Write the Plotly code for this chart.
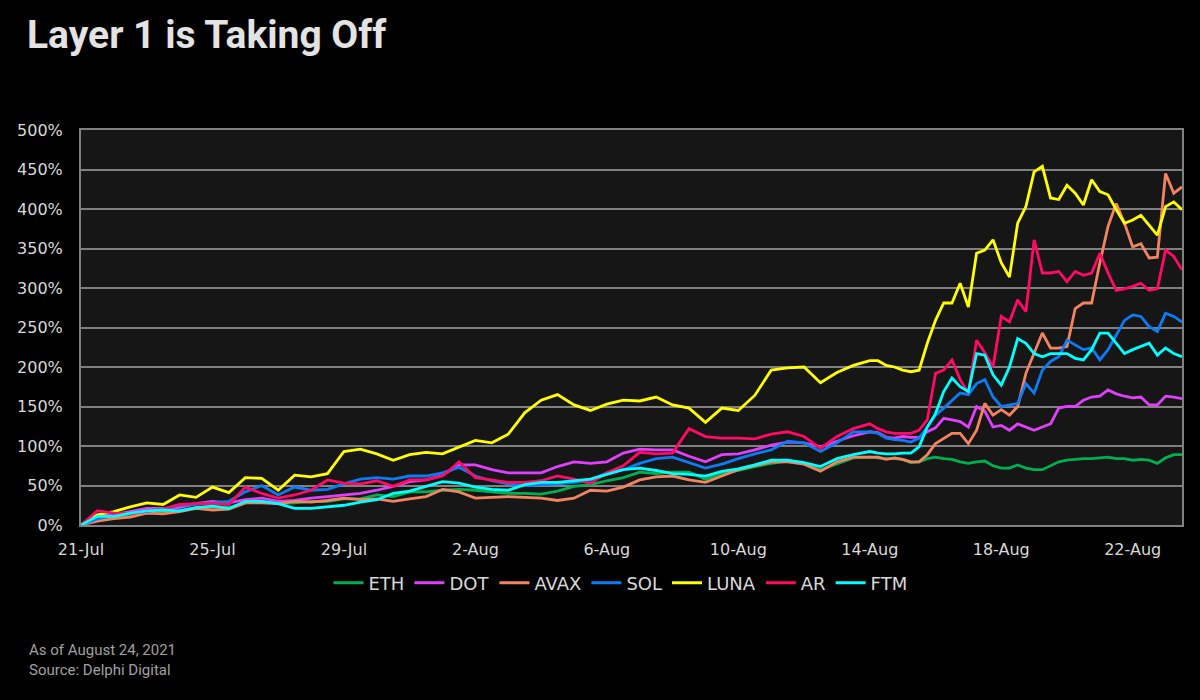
import plotly.graph_objects as go
from datetime import datetime, timedelta

# ---------------- data ----------------
start = datetime(2021, 7, 21)
# sample times: every 12h until 14-Aug, then every 6h until the end of data
day_offsets = [i * 0.5 for i in range(49)] + [24 + k * 0.25 for k in range(1, 39)]
dates = [start + timedelta(days=d) for d in day_offsets]

series_names = ["ETH", "DOT", "AVAX", "SOL", "LUNA", "AR", "FTM"]
series_colors = ["#00B050", "#E040FB", "#F4845F", "#0B7CF5", "#FFFF00", "#FF0A64", "#00FFFF"]

eth = [0, 7, 10, 12, 15, 16, 18, 22, 23, 22, 28, 30, 27, 28, 30, 30, 33, 33, 38, 36,
       42, 42, 44, 45, 44, 42, 40, 40, 39, 43, 49, 51, 56, 60, 67, 65, 67, 67, 58, 65,
       69, 74, 78, 81, 78, 70, 78, 85, 86,
       85, 84, 84, 83, 79, 80, 84, 86, 84, 83, 80, 78, 80, 81, 75, 72, 72, 76, 72, 70,
       70, 75, 80, 82, 83, 84, 84, 85, 86, 84, 84, 82, 83, 82, 78, 85, 89, 89]

dot = [0, 10, 13, 17, 21, 21, 22, 27, 30, 28, 32, 34, 30, 31, 34, 36, 38, 40, 44, 49,
       55, 57, 63, 76, 76, 70, 66, 66, 66, 74, 80, 78, 80, 91, 96, 95, 95, 87, 80, 89,
       90, 95, 101, 105, 104, 99, 106, 113, 118,
       117, 111, 110, 112, 111, 111, 118, 123, 135, 133, 131, 124, 150, 144, 124, 126, 120, 128, 124, 120,
       124, 128, 148, 150, 150, 158, 162, 163, 171, 166, 163, 161, 162, 152, 152, 163, 162, 160]

avax = [0, 5, 8, 10, 15, 14, 17, 21, 19, 20, 28, 28, 27, 30, 29, 31, 34, 32, 33, 30,
        33, 36, 45, 42, 34, 35, 36, 35, 34, 31, 34, 44, 43, 48, 57, 61, 62, 57, 54, 62,
        70, 75, 80, 80, 77, 68, 80, 86, 86,
        86, 83, 85, 83, 80, 80, 89, 103, 110, 116, 116, 103, 120, 154, 139, 146, 139, 150, 192, 217,
        243, 224, 224, 226, 274, 281, 281, 332, 378, 407, 382, 352, 356, 338, 339, 445, 420, 428]

sol = [0, 8, 12, 15, 17, 20, 25, 26, 28, 30, 42, 50, 38, 48, 44, 45, 52, 58, 60, 58,
       62, 62, 66, 73, 62, 56, 52, 50, 51, 52, 54, 57, 66, 70, 78, 84, 86, 79, 72, 77,
       84, 90, 95, 106, 104, 93, 104, 118, 118,
       116, 110, 108, 107, 105, 110, 124, 139, 148, 158, 167, 165, 179, 184, 162, 150, 152, 154, 179, 167,
       196, 207, 213, 234, 228, 222, 224, 209, 222, 241, 259, 266, 264, 251, 245, 268, 264, 257]

luna = [0, 13, 17, 23, 28, 26, 38, 35, 48, 41, 60, 59, 44, 63, 61, 65, 93, 96, 90, 82,
        89, 92, 90, 98, 107, 104, 115, 142, 158, 165, 152, 145, 153, 158, 157, 162, 152, 148, 130, 148,
        145, 164, 196, 199, 200, 180, 193, 202, 208,
        208, 202, 200, 196, 194, 196, 230, 259, 281, 281, 306, 276, 344, 348, 361, 332, 314, 382, 403, 447,
        454, 414, 412, 430, 420, 405, 437, 422, 418, 399, 382, 386, 392, 380, 367, 403, 409, 399]

ar = [0, 18, 15, 14, 18, 20, 26, 27, 27, 26, 48, 40, 34, 38, 44, 57, 53, 52, 56, 49,
      57, 57, 62, 80, 60, 57, 54, 54, 56, 62, 58, 53, 66, 75, 92, 90, 91, 122, 112, 110,
      110, 109, 115, 118, 112, 97, 112, 122, 128,
      122, 118, 116, 116, 116, 120, 133, 192, 196, 209, 184, 167, 234, 218, 200, 264, 257, 285, 270, 361,
      319, 319, 321, 308, 321, 316, 319, 344, 319, 297, 299, 302, 306, 297, 299, 348, 340, 323]

ftm = [0, 11, 11, 15, 18, 19, 18, 22, 24, 21, 30, 30, 27, 21, 21, 23, 25, 29, 32, 40,
       43, 49, 55, 53, 48, 45, 44, 51, 54, 54, 56, 58, 64, 70, 72, 69, 65, 64, 62, 68,
       71, 76, 82, 82, 79, 74, 84, 89, 93,
       91, 90, 90, 91, 91, 99, 124, 141, 169, 186, 175, 169, 217, 215, 190, 177, 200, 236, 230, 217,
       213, 217, 217, 217, 211, 209, 222, 243, 243, 230, 217, 222, 226, 230, 215, 224, 217, 213]

series_values = [eth, dot, avax, sol, luna, ar, ftm]

x_tick_dates = ["2021-07-21", "2021-07-25", "2021-07-29", "2021-08-02", "2021-08-06",
                "2021-08-10", "2021-08-14", "2021-08-18", "2021-08-22"]
x_tick_labels = ["21-Jul", "25-Jul", "29-Jul", "2-Aug", "6-Aug", "10-Aug", "14-Aug", "18-Aug", "22-Aug"]
y_ticks = [0, 50, 100, 150, 200, 250, 300, 350, 400, 450, 500]
y_tick_labels = [f"{v}%" for v in y_ticks]

title_text = "Layer 1 is Taking Off"
note_text = "As of August 24, 2021<br>Source: Delphi Digital"

# ---------------- figure ----------------
fig = go.Figure()
for name, color, vals in zip(series_names, series_colors, series_values):
    fig.add_trace(go.Scatter(
        x=dates, y=vals, name=name, mode="lines",
        line=dict(color=color, width=2.8),
        hovertemplate=name + ": %{y}%<extra></extra>",
    ))

tick_font = dict(family="DejaVu Sans", size=16, color="#d9d9d9")

fig.update_layout(
    width=1200, height=700,
    paper_bgcolor="#000000",
    plot_bgcolor="#161616",
    margin=dict(l=81, r=18, t=130, b=175, autoexpand=False),
    title=dict(
        text=title_text,
        x=27 / 1200, xref="container", xanchor="left",
        y=1 - 34 / 700, yref="container", yanchor="middle",
        font=dict(family="Roboto", size=39, color="#e3e3e3", weight=700),
    ),
    xaxis=dict(
        type="date",
        range=[start, start + timedelta(days=33.5)],
        tickvals=x_tick_dates, ticktext=x_tick_labels,
        showgrid=False, zeroline=False,
        showline=True, linecolor="#808080", linewidth=2, mirror=True,
        ticks="", tickfont=tick_font, ticklabelstandoff=9,
    ),
    yaxis=dict(
        range=[0, 500],
        tickvals=y_ticks, ticktext=y_tick_labels,
        showgrid=True, gridcolor="#808080", gridwidth=1.5,
        zeroline=False,
        showline=True, linecolor="#808080", linewidth=2, mirror=True,
        ticks="", tickfont=tick_font, ticklabelstandoff=13,
    ),
    legend=dict(
        orientation="h",
        x=0.49, xanchor="center",
        y=-0.147, yanchor="middle",
        font=dict(family="DejaVu Sans", size=18, color="#d9d9d9"),
        bgcolor="rgba(0,0,0,0)",
        traceorder="normal",
    ),
    showlegend=True,
)

fig.add_annotation(
    text=note_text,
    xref="paper", yref="paper",
    x=(27 - 81) / 1101, y=(525 - 639) / 395,
    xanchor="left", yanchor="top", align="left",
    showarrow=False,
    font=dict(family="Roboto", size=15, color="#a0a0a0"),
)

fig.write_html(
    "out.html",
    config={"displayModeBar": False},
    post_script="document.body.style.margin='0';document.body.style.background='#000';",
)
